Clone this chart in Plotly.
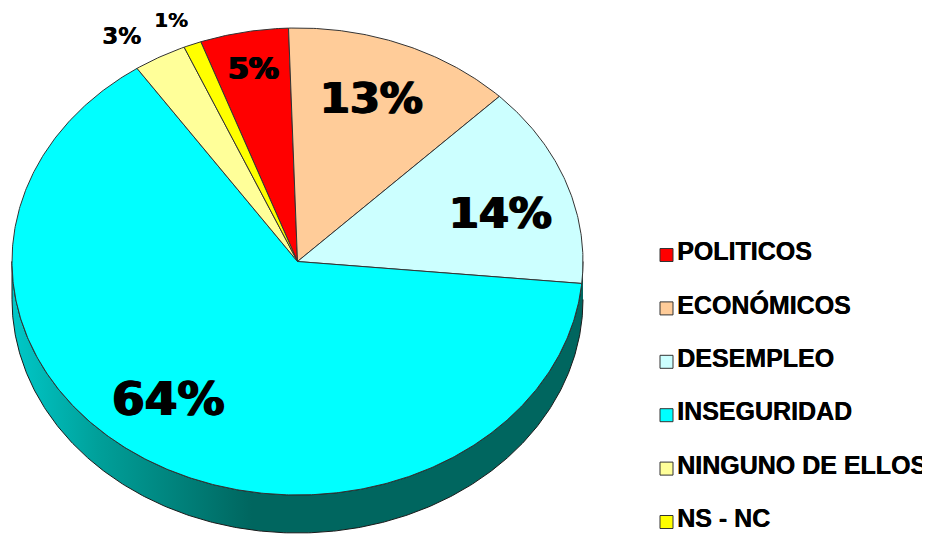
import numpy as np
import plotly.graph_objects as go

categories = ["POLITICOS", "ECONÓMICOS", "DESEMPLEO", "INSEGURIDAD", "NINGUNO DE ELLOS", "NS - NC"]
values = [5, 13, 14, 64, 3, 1]
colors = ["#ff0000", "#ffcc99", "#ccffff", "#00ffff", "#ffff99", "#ffff00"]

# pie geometry, in the pixel coordinates of the axes
CX, CY, RX, RY, DEPTH = 297.5, 261.5, 285.5, 233.5, 38
START_DEG = -19.8
LABEL_POS = [(253, 68, 30), (371, 98, 43), (500, 213, 43), (168, 398, 47), (121, 36, 23), (171, 20, 20)]
LEG_X, LEG_TEXT_X, LEG_Y0, LEG_TEXT_Y0, LEG_DY = 666.5, 677, 255, 254, 53.4


def arc(a0, a1, dy=0.0):
    t = np.radians(np.linspace(a0, a1, max(3, int(abs(a1 - a0) * 2))))
    return CX + RX * np.sin(t), CY + dy + -RY * np.cos(t)


fig = go.Figure()

# side wall of the pie (visible lower half)
xo, yo = arc(90, 270, DEPTH)
xi, yi = arc(270, 90, 0)
fig.add_trace(go.Scatter(
    x=np.r_[xo, xi], y=np.r_[yo, yi], mode="lines", fill="toself",
    line=dict(color="#1a1a1a", width=1),
    fillgradient=dict(type="horizontal", colorscale=[
        [0, "#00c8c8"], [0.15, "#00a09a"], [0.42, "#00665f"], [1, "#00665f"]]),
    hoverinfo="skip", showlegend=False))

# top-face slices
angle = START_DEG
total = sum(values)
for name, v, c in zip(categories, values, colors):
    sweep = 360 * v / total
    x, y = arc(angle, angle + sweep)
    fig.add_trace(go.Scatter(
        x=np.r_[CX, x, CX], y=np.r_[CY, y, CY], mode="lines", fill="toself",
        fillcolor=c, line=dict(color="#333333", width=1),
        name=name, hoverinfo="name", showlegend=False))
    angle += sweep

# percentage labels
for v, (lx, ly, size) in zip(values, LABEL_POS):
    halo = "1px 0 0 black, -1px 0 0 black" if size > 25 else "0.4px 0 0 black"
    fig.add_annotation(x=lx, y=ly, text=f"<b>{v}%</b>", showarrow=False,
                       font=dict(family="DejaVu Sans", size=size, color="black", shadow=halo))

# legend keys
n = len(categories)
fig.add_trace(go.Scatter(
    x=[LEG_X] * n, y=[LEG_Y0 + i * LEG_DY for i in range(n)], mode="markers",
    marker=dict(symbol="square", size=13, color=colors, line=dict(color="#333333", width=1)),
    hoverinfo="skip", showlegend=False))

# legend texts
fig.add_trace(go.Scatter(
    x=[LEG_TEXT_X] * n, y=[LEG_TEXT_Y0 + i * LEG_DY for i in range(n)], mode="text",
    text=[f"<b>{c}</b>" for c in categories], textposition="middle right",
    textfont=dict(family="Liberation Sans", size=25, color="black", shadow="0.4px 0 0 black"),
    cliponaxis=False, hoverinfo="skip", showlegend=False))

# the page has an 8 px body margin: the plot fills the rest of the window,
# and the axes run in window pixels
fig.update_layout(
    width=922, height=526, margin=dict(l=0, r=0, t=0, b=0),
    paper_bgcolor="white", plot_bgcolor="white", showlegend=False,
    xaxis=dict(range=[8, 930], visible=False, fixedrange=True),
    yaxis=dict(range=[534, 8], visible=False, fixedrange=True),
)
fig.write_html("out.html", config={"displayModeBar": False})
